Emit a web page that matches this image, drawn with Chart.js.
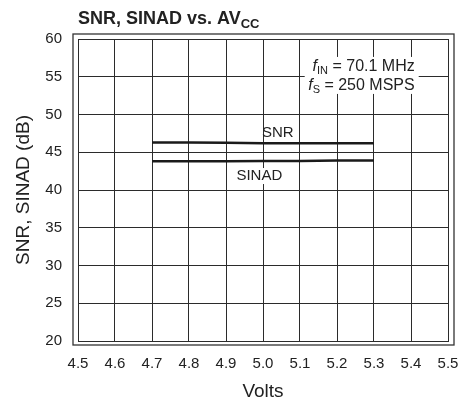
<!DOCTYPE html>
<html>
<head>
<meta charset="utf-8">
<script src="https://cdn.jsdelivr.net/npm/chart.js@4/dist/chart.umd.min.js"></script>
<style>
  html, body { margin: 0; padding: 0; background: #fff; }
  #wrap { width: 460px; height: 407px; }
</style>
</head>
<body>
<div id="wrap"><canvas id="myChart" width="460" height="407"></canvas></div>
<script>
// Dữ liệu
const xVolts = [4.7, 4.8, 4.9, 5.0, 5.1, 5.2, 5.3];
const snr = [46.3, 46.3, 46.25, 46.2, 46.2, 46.2, 46.2];
const sinad = [43.8, 43.8, 43.8, 43.85, 43.85, 43.9, 43.9];
const xTicks = [4.5, 4.6, 4.7, 4.8, 4.9, 5.0, 5.1, 5.2, 5.3, 5.4, 5.5];
const yTicks = [20, 25, 30, 35, 40, 45, 50, 55, 60];

const FONT = '"Liberation Sans", Arial, Helvetica, sans-serif';
const ink = '#222';
const gridColor = '#2b2b2b';

// Vẽ chữ có chỉ số dưới
function drawParts(ctx, parts, x, y, align) {
    let total = 0;
    parts.forEach(p => { ctx.font = p.font; p.w = ctx.measureText(p.t).width; total += p.w; });
    let cx = align === 'right' ? x - total : (align === 'center' ? x - total / 2 : x);
    ctx.textAlign = 'left';
    parts.forEach(p => {
        ctx.font = p.font;
        ctx.fillText(p.t, cx, y + (p.dy || 0));
        cx += p.w;
    });
}

const decorPlugin = {
    id: 'decor',
    afterDraw(chart) {
        const c = chart.ctx;
        const xs = chart.scales.x, ys = chart.scales.y;
        c.save();
        // khung ngoài
        c.strokeStyle = '#333';
        c.lineWidth = 1.3;
        c.strokeRect(73, 34, 381, 311);

        c.fillStyle = ink;
        c.textBaseline = 'alphabetic';
        // tiêu đề
        drawParts(c, [
            {t: 'SNR, SINAD vs. AV', font: 'bold 18px ' + FONT},
            {t: 'CC', font: 'bold 13px ' + FONT, dy: 4}
        ], 78, 24, 'left');

        // chú thích f_IN, f_S
        const xr = xs.getPixelForValue(5.41);
        const y1 = ys.getPixelForValue(56.3), y2 = ys.getPixelForValue(53.8);
        c.fillStyle = '#fff';
        c.fillRect(xr - 110, y1 - 10, 114, 37);
        c.fillStyle = ink;
        c.textBaseline = 'middle';
        drawParts(c, [
            {t: 'f', font: 'italic 16px ' + FONT},
            {t: 'IN', font: '11px ' + FONT, dy: 4},
            {t: ' = 70.1 MHz', font: '16px ' + FONT}
        ], xr, y1, 'right');
        drawParts(c, [
            {t: 'f', font: 'italic 16px ' + FONT},
            {t: 'S', font: '11px ' + FONT, dy: 4},
            {t: ' = 250 MSPS', font: '16px ' + FONT}
        ], xr, y2, 'right');

        // nhãn đường
        c.font = '15px ' + FONT;
        c.textAlign = 'center';
        const sx = xs.getPixelForValue(5.04), sy = ys.getPixelForValue(47.55);
        c.fillText('SNR', sx, sy);
        const dx = xs.getPixelForValue(4.99), dy = ys.getPixelForValue(41.85);
        const w = c.measureText('SINAD').width;
        c.fillStyle = '#fff';
        c.fillRect(dx - w / 2 - 1, dy - 8, w + 2, 16);
        c.fillStyle = ink;
        c.fillText('SINAD', dx, dy);
        c.restore();
    }
};

const ctx = document.getElementById('myChart').getContext('2d');

const chart = new Chart(ctx, {
    type: 'line',
    data: {
        datasets: [{
            label: 'SNR',
            data: xVolts.map((v, i) => ({x: v, y: snr[i]})),
            borderColor: '#1a1a1a',
            borderWidth: 2.5,
            pointRadius: 0,
            tension: 0
        }, {
            label: 'SINAD',
            data: xVolts.map((v, i) => ({x: v, y: sinad[i]})),
            borderColor: '#1a1a1a',
            borderWidth: 2.5,
            pointRadius: 0,
            tension: 0
        }]
    },
    options: {
        responsive: false,
        animation: false,
        layout: {padding: {left: 0, right: 12, top: 39, bottom: 0}},
        plugins: {
            legend: {display: false},
            tooltip: {enabled: false}
        },
        scales: {
            x: {
                type: 'linear',
                min: 4.5,
                max: 5.5,
                afterBuildTicks: s => { s.ticks = xTicks.map(v => ({value: v})); },
                afterFit: s => { s.height = 66; s.paddingLeft = 0; s.paddingRight = 0; },
                grid: {color: gridColor, lineWidth: 1, drawTicks: false},
                border: {color: gridColor, width: 1},
                ticks: {
                    padding: 14,
                    color: ink,
                    maxRotation: 0,
                    autoSkip: false,
                    font: {family: FONT, size: 15},
                    callback: v => Number(v).toFixed(1)
                },
                title: {
                    display: true,
                    text: 'Volts',
                    color: ink,
                    font: {family: FONT, size: 19},
                    padding: {top: 0, bottom: 4}
                }
            },
            y: {
                min: 20,
                max: 60,
                afterBuildTicks: s => { s.ticks = yTicks.map(v => ({value: v})); },
                afterFit: s => { s.width = 78; s.paddingTop = 0; s.paddingBottom = 0; },
                grid: {color: gridColor, lineWidth: 1, drawTicks: false},
                border: {color: gridColor, width: 1},
                ticks: {
                    padding: 16,
                    color: ink,
                    font: {family: FONT, size: 15}
                },
                title: {
                    display: true,
                    text: 'SNR, SINAD (dB)',
                    color: ink,
                    font: {family: FONT, size: 19},
                    padding: {top: 12, bottom: 0}
                }
            }
        }
    },
    plugins: [decorPlugin]
});
</script>
</body>
</html>
